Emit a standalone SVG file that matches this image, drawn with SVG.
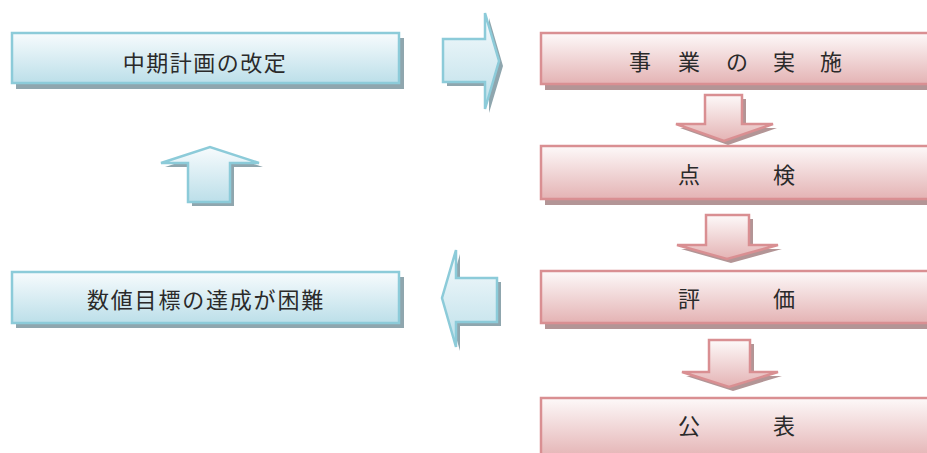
<svg xmlns="http://www.w3.org/2000/svg" width="927" height="453" viewBox="0 0 927 453">
<defs>
<linearGradient id="gb" x1="0" y1="0" x2="0" y2="1">
<stop offset="0" stop-color="#f7fbfd"/>
<stop offset="1" stop-color="#bcdfe9"/>
</linearGradient>
<linearGradient id="gp" x1="0" y1="0" x2="0" y2="1">
<stop offset="0" stop-color="#fdf9f9"/>
<stop offset="1" stop-color="#e4b3b4"/>
</linearGradient>
</defs>
<style>
.bs{fill:#8fa6ae}
.ps{fill:#b39596}
.b{fill:url(#gb);stroke:#8ccbd9;stroke-width:2.5}
.p{fill:url(#gp);stroke:#d98f92;stroke-width:2.5}
.t{font-family:"Noto Sans CJK JP","Liberation Sans",sans-serif;font-size:22px;fill:#2a2a2a}
</style>
<g id="node-kaitei">
<rect class="bs" x="16" y="38" width="388" height="51"/>
<rect class="b" x="12" y="33" width="387" height="50"/>
<text class="t" x="205" y="71" text-anchor="middle" letter-spacing="1.5">中期計画の改定</text>
</g>
<g id="node-konnan">
<rect class="bs" x="16" y="277" width="388" height="51"/>
<rect class="b" x="12" y="272" width="387" height="51"/>
<text class="t" x="206" y="308" text-anchor="middle" letter-spacing="1.8">数値目標の達成が困難</text>
</g>
<g id="node-jisshi">
<rect class="ps" x="545" y="38" width="400" height="52"/>
<rect class="p" x="541" y="33" width="400" height="51"/>
<text class="t" x="629 651 678 700 726 748 773 795 820" y="70">事 業 の 実 施</text>
</g>
<g id="node-tenken">
<rect class="ps" x="545" y="151" width="400" height="54"/>
<rect class="p" x="541" y="146" width="400" height="53"/>
<text class="t" x="678 725 773" y="183">点 検</text>
</g>
<g id="node-hyoka">
<rect class="ps" x="545" y="276" width="400" height="53"/>
<rect class="p" x="541" y="271" width="400" height="52"/>
<text class="t" x="678 725 773" y="307">評 価</text>
</g>
<g id="node-kohyo">
<rect class="ps" x="545" y="403" width="400" height="60"/>
<rect class="p" x="541" y="398" width="400" height="60"/>
<text class="t" x="678 725 773" y="434">公 表</text>
</g>
<g id="connectors">
<polygon class="bs" points="447,43 489,43 489,18 503,66 489,113 489,86 447,86"/>
<polygon class="b" points="443,39 485,39 485,13 499,61 485,109 485,82 443,82"/>
<polygon class="bs" points="501,282 460,282 460,254 446,302 460,351 460,326 501,326"/>
<polygon class="b" points="497,278 456,278 456,250 442,298 456,347 456,322 497,322"/>
<polygon class="bs" points="192,206 192,167 165,167 214,151 263,167 234,167 234,206"/>
<polygon class="b" points="188,202 188,163 161,163 210,147 259,163 230,163 230,202"/>
<polygon class="ps" points="709,99 746,99 746,128 777,128 728,145 680,128 709,128"/>
<polygon class="p" points="705,95 742,95 742,124 773,124 724,141 676,124 705,124"/>
<polygon class="ps" points="710,219 753,219 753,249 782,249 731,263 681,249 710,249"/>
<polygon class="p" points="706,215 749,215 749,245 778,245 727,259 677,245 706,245"/>
<polygon class="ps" points="713,344 754,344 754,376 782,376 733,391 686,376 713,376"/>
<polygon class="p" points="709,340 750,340 750,372 778,372 729,387 682,372 709,372"/>
</g>
</svg>
